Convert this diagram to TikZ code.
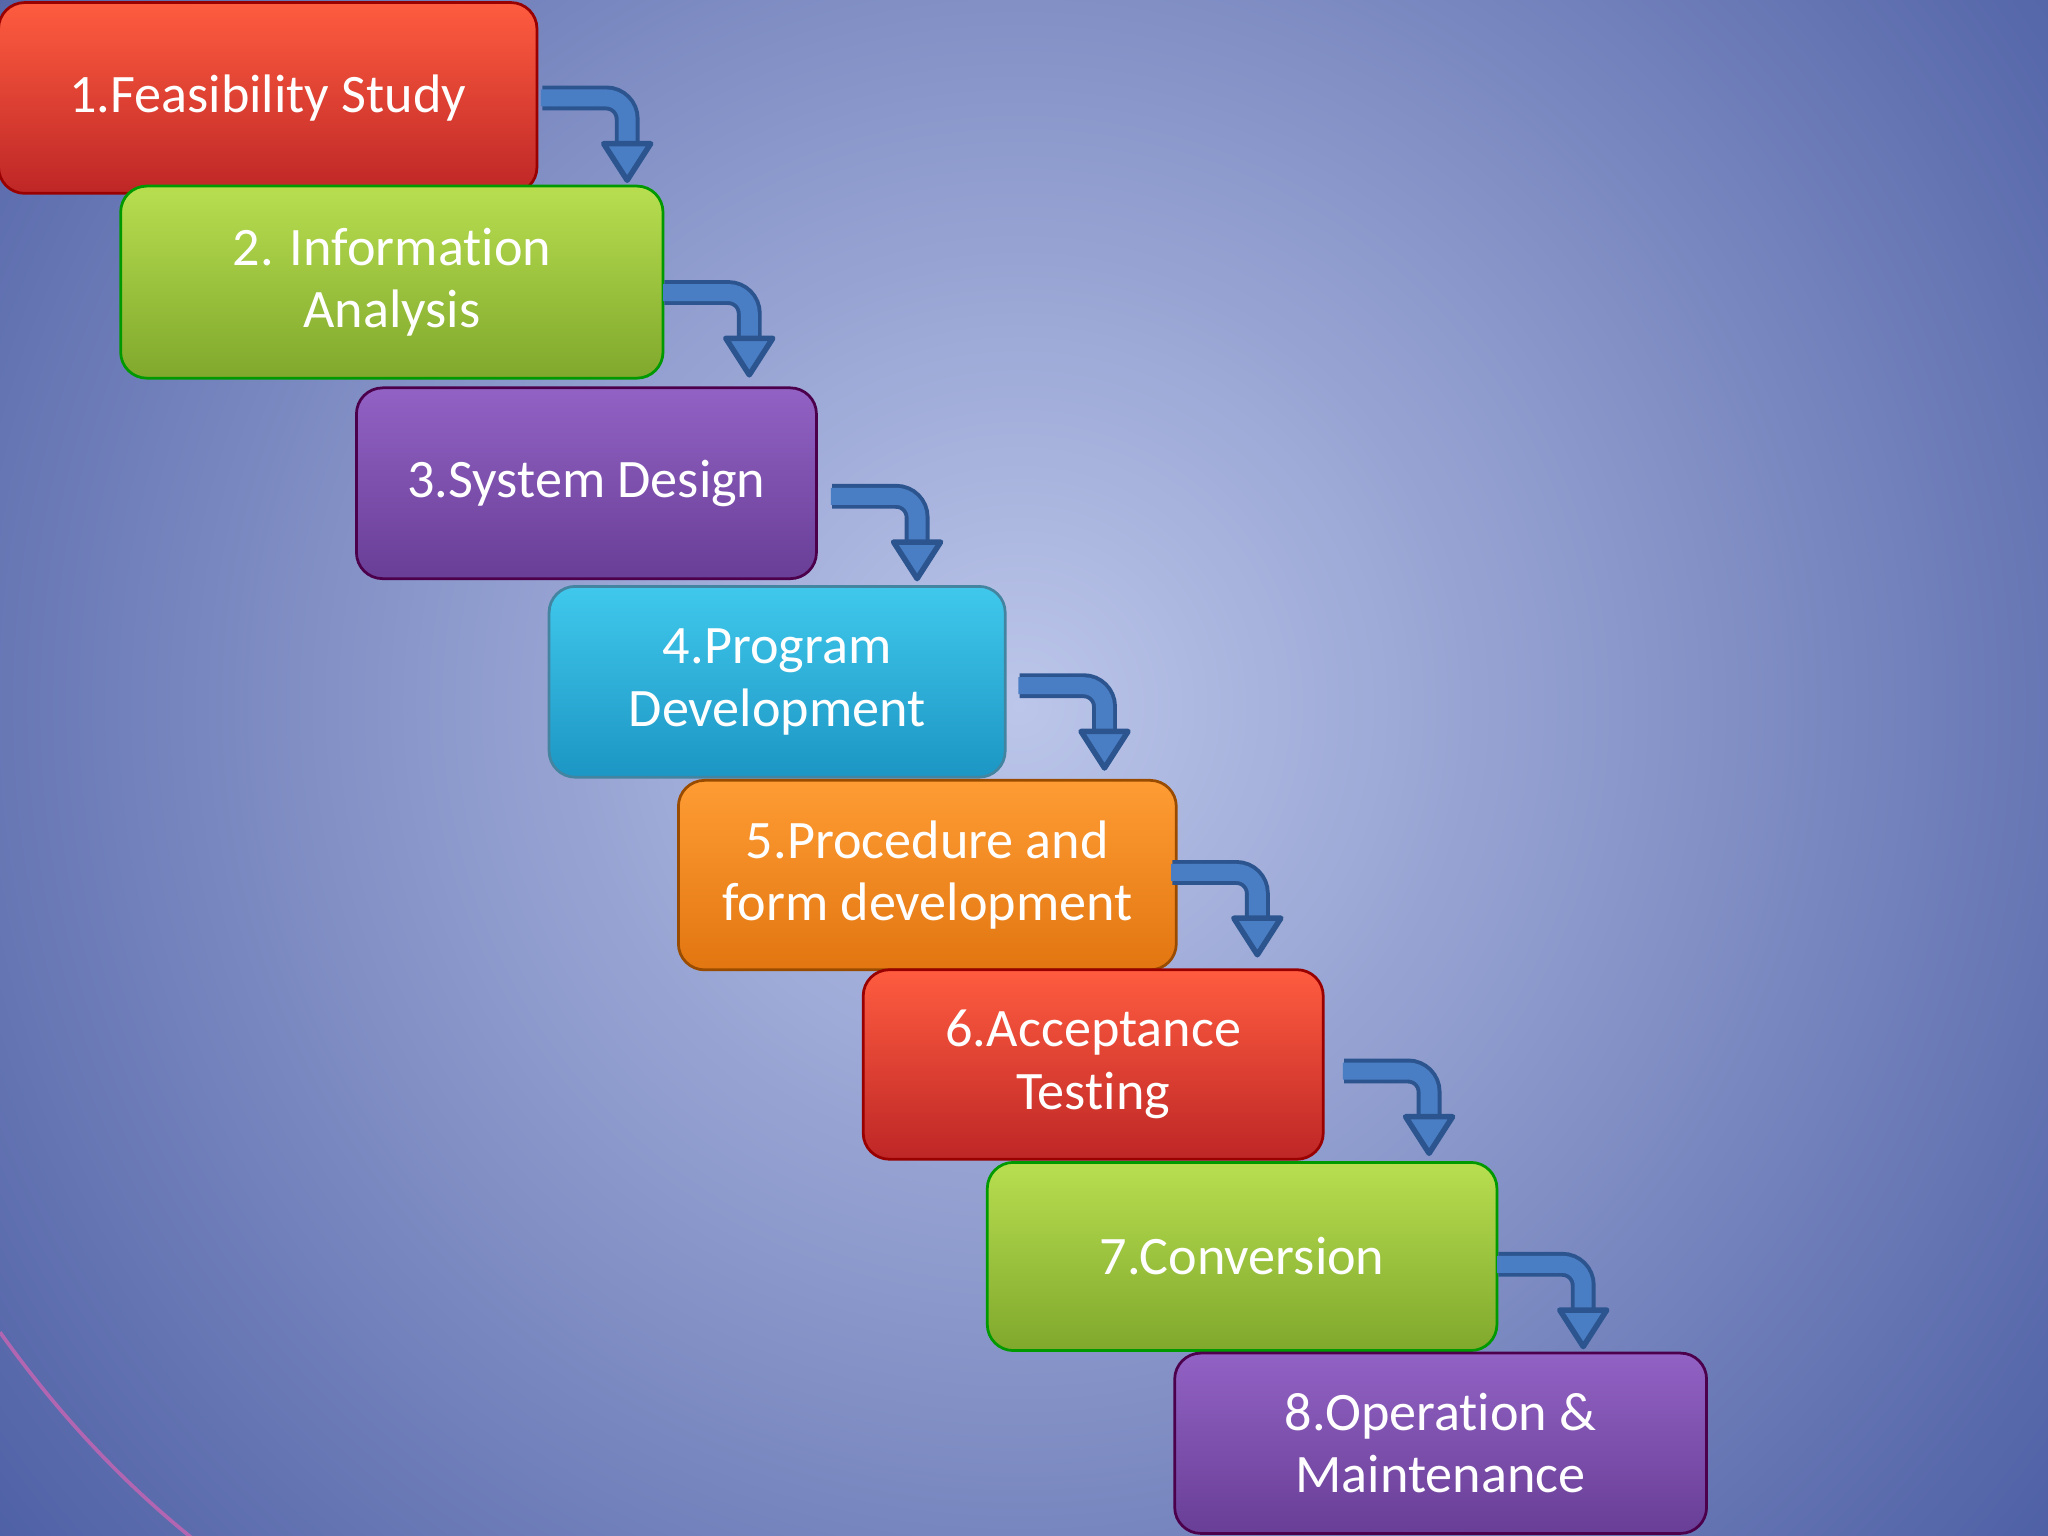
\documentclass[tikz,border=0pt]{standalone}
\usepackage{fontspec}
\setmainfont{Carlito}[Ligatures={NoCommon}]
\usetikzlibrary{calc}
\definecolor{bgdark}{HTML}{2A3E8E}
\definecolor{bglight}{HTML}{BCC6EA}
\definecolor{arrdark}{HTML}{2C5590}
\definecolor{arrblue}{HTML}{4A7EC4}
\tikzset{
  stepbox/.style={rounded corners=0.2cm, draw=#1!60!black, line width=0.6pt, text=white,
    align=center, font=\fontsize{11.8pt}{13.6pt}\selectfont, inner sep=0pt},
  redbox/.style={stepbox=red, top color=red!70!orange!75!white, bottom color=red!70!black!85!white},
  greenbox/.style={stepbox=green, top color={rgb,255:red,184;green,222;blue,80}, bottom color={rgb,255:red,128;green,168;blue,44}},
  purplebox/.style={stepbox=violet, top color={rgb,255:red,146;green,98;blue,196}, bottom color={rgb,255:red,104;green,62;blue,150}},
  cyanbox/.style={stepbox=cyan, top color={rgb,255:red,64;green,200;blue,236}, bottom color={rgb,255:red,28;green,150;blue,196}},
  orangebox/.style={stepbox=orange, top color={rgb,255:red,255;green,156;blue,52}, bottom color={rgb,255:red,226;green,118;blue,16}},
}
\newcommand\bentarr[1]{%
  \draw[arrdark,line width=0.19cm,rounded corners=0.16cm] (#1) -- ++(65,0) -- ++(0,36);
  \draw[arrblue,line width=0.13cm,rounded corners=0.16cm] ($(#1)+(-1,0)$) -- ++(66,0) -- ++(0,37);
  \filldraw[fill=arrblue,draw=arrdark,line width=1.2pt,line join=round] ($(#1)+(65,63)$) -- ++(-18,-28) -- ++(36,0) -- cycle;
}
\begin{document}
\begin{tikzpicture}[x=0.01cm,y=-0.01cm]
\useasboundingbox (0,0) rectangle (1568,1176);
\begin{scope}
\clip (0,0) rectangle (1568,1176);
\fill[bgdark] (0,0) rectangle (1568,1176);
\shade[inner color=bglight, outer color=bgdark] (780,540) circle (1350);
\draw[violet!60!white,line width=0.8pt] (0,1020) .. controls (50,1090) and (100,1140) .. (150,1180);
\end{scope}
\node[redbox, minimum width=4.12cm, minimum height=1.46cm] (b1) at (205,75) {1.Feasibility Study};
\node[greenbox, minimum width=4.15cm, minimum height=1.47cm] (b2) at (300,216) {2. Information\\Analysis};
\node[purplebox, minimum width=3.52cm, minimum height=1.46cm] (b3) at (449,370) {3.System Design};
\node[cyanbox, minimum width=3.49cm, minimum height=1.46cm] (b4) at (595,522) {4.Program\\Development};
\node[orangebox, minimum width=3.81cm, minimum height=1.45cm] (b5) at (710,670) {5.Procedure and\\form development};
\node[redbox, minimum width=3.52cm, minimum height=1.45cm] (b6) at (837,815) {6.Acceptance\\Testing};
\node[greenbox, minimum width=3.90cm, minimum height=1.44cm] (b7) at (951,962) {7.Conversion};
\node[purplebox, minimum width=4.07cm, minimum height=1.38cm] (b8) at (1103,1105) {8.Operation \&\\Maintenance};
\coordinate (a1) at ($(b1.east)+(3,0)$);
\coordinate (a2) at ($(b2.east)+(0,8)$);
\coordinate (a3) at ($(b3.east)+(11,10)$);
\coordinate (a4) at ($(b4.east)+(10,3)$);
\coordinate (a5) at ($(b5.east)+(-4,-2)$);
\coordinate (a6) at ($(b6.east)+(15,5)$);
\coordinate (a7) at ($(b7.east)+(0,6)$);
\bentarr{a1}\bentarr{a2}\bentarr{a3}\bentarr{a4}\bentarr{a5}\bentarr{a6}\bentarr{a7}
\end{tikzpicture}
\end{document}
